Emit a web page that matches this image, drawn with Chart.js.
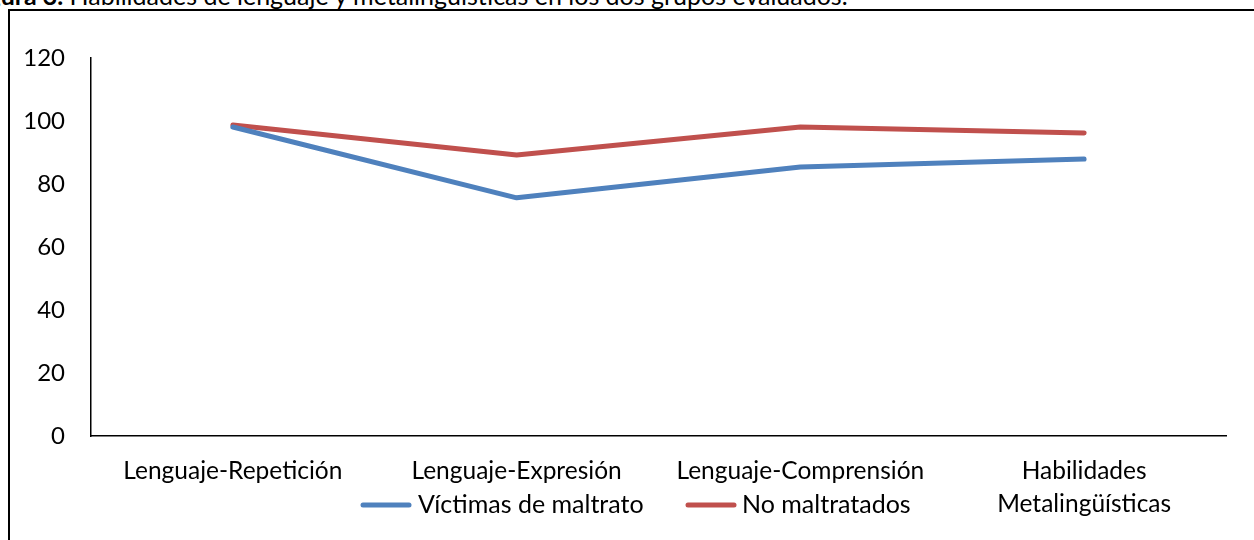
<!DOCTYPE html>
<html>
<head>
<meta charset="utf-8">
<script src="https://cdn.jsdelivr.net/npm/chart.js@4/dist/chart.umd.min.js"></script>
<style>
  html, body { margin: 0; padding: 0; background: #fff; overflow: hidden; }
  body { width: 1254px; height: 540px; position: relative; }
  #caption { position: absolute; left: -33px; top: -20px; font-family: "Lato", sans-serif; font-size: 25px; white-space: nowrap; color: #000; }
  #frame { position: absolute; left: 8px; top: 9px; width: 1300px; height: 600px; border-left: 2px solid #000; border-top: 2px solid #000; }
  #wrap { position: absolute; left: 0; top: 0; width: 1254px; height: 540px; }
</style>
</head>
<body>
<div id="caption"><b>Figura 3.</b> Habilidades de lenguaje y metalingüísticas en los dos grupos evaluados.</div>
<div id="frame"></div>
<div id="wrap"><canvas id="c" width="1254" height="540"></canvas></div>
<script>
const categories = ["Lenguaje-Repetición", "Lenguaje-Expresión", "Lenguaje-Comprensión", ["Habilidades", "Metalingüísticas"]];
const victimas = [98.1, 75.6, 85.4, 87.9];
const noMaltratados = [98.7, 89.2, 98.1, 96.2];
const seriesNames = ["Víctimas de maltrato", "No maltratados"];
const yTicks = [0, 20, 40, 60, 80, 100, 120];

const FONT = "Lato";

const customLegend = {
  id: 'customLegend',
  afterDraw(chart) {
    const ctx = chart.ctx;
    const items = [{x: 363, tx: 418}, {x: 688, tx: 742}];
    ctx.save();
    ctx.font = `25px "${FONT}"`;
    ctx.textBaseline = 'middle';
    ctx.fillStyle = '#000';
    chart.data.datasets.forEach((ds, i) => {
      const it = items[i];
      const y = 505;
      ctx.strokeStyle = ds.borderColor;
      ctx.lineWidth = 5;
      ctx.lineCap = 'round';
      ctx.beginPath();
      ctx.moveTo(it.x, y);
      ctx.lineTo(it.x + 46, y);
      ctx.stroke();
      ctx.fillText(ds.label, it.tx, y);
    });
    ctx.restore();
  }
};

new Chart(document.getElementById('c'), {
  type: 'line',
  data: {
    labels: categories,
    datasets: [
      { label: seriesNames[0], data: victimas, borderColor: '#4F81BD', backgroundColor: '#4F81BD', borderWidth: 5, pointRadius: 0, tension: 0, borderCapStyle: 'round', borderJoinStyle: 'round' },
      { label: seriesNames[1], data: noMaltratados, borderColor: '#C0504D', backgroundColor: '#C0504D', borderWidth: 5, pointRadius: 0, tension: 0, borderCapStyle: 'round', borderJoinStyle: 'round' }
    ]
  },
  options: {
    responsive: false,
    animation: false,
    layout: { padding: { left: 0, right: 28, top: 58, bottom: 0 } },
    plugins: { legend: { display: false }, tooltip: { enabled: false }, title: { display: false } },
    scales: {
      x: {
        offset: true,
        grid: { display: false, drawTicks: false },
        border: { display: true, color: '#000', width: 1.5 },
        ticks: { color: '#000', font: { family: FONT, size: 24.5, lineHeight: 1.36 }, padding: 18, maxRotation: 0, autoSkip: false },
        afterFit(s) { s.height = 104; }
      },
      y: {
        min: 0, max: 120,
        grid: { display: false, drawTicks: false },
        border: { display: true, color: '#000', width: 1.5 },
        afterBuildTicks(s) { s.ticks = yTicks.map(v => ({ value: v })); },
        ticks: { color: '#000', font: { family: FONT, size: 24 }, padding: 26 },
        afterFit(s) { s.width = 91; }
      }
    }
  },
  plugins: [customLegend]
});
</script>
</body>
</html>
